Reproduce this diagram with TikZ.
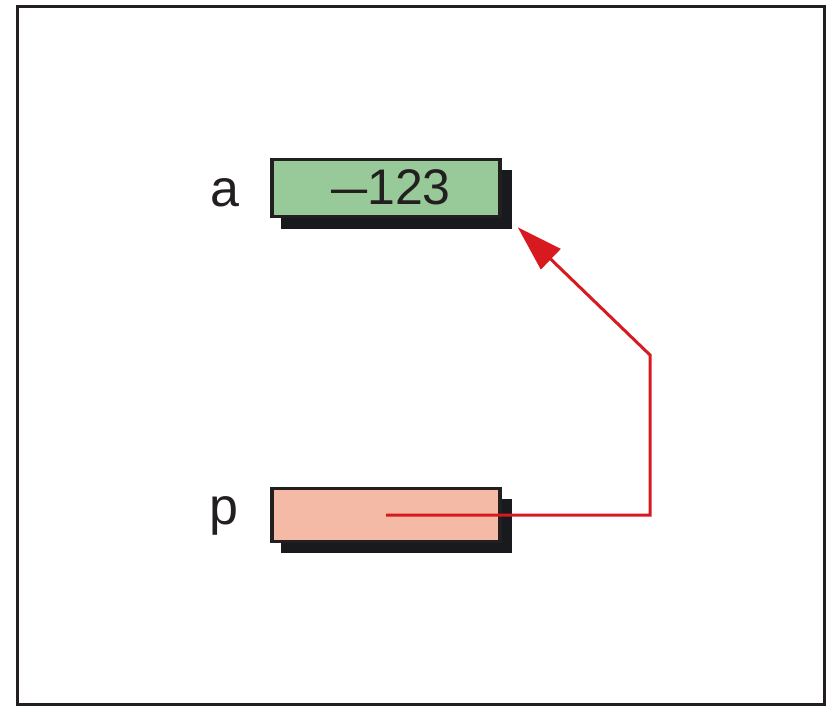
\documentclass[tikz,border=0pt]{standalone}
\usepackage{graphicx}
\usepackage{fontspec}
\setmainfont{Liberation Sans}
\usetikzlibrary{arrows.meta,calc}
\definecolor{cellgreen}{RGB}{151,202,152}
\definecolor{cellpink}{RGB}{244,186,166}
\definecolor{shade}{RGB}{24,26,30}
\definecolor{ink}{RGB}{35,31,32}
\definecolor{ptr}{RGB}{215,25,32}
\tikzset{
  cell/.style={draw=ink, line width=3.5pt, minimum width=228pt, minimum height=57pt,
    inner sep=0pt},
  lbl/.style={font=\fontsize{52}{52}\selectfont, inner sep=0pt, text=ink},
  val/.style={font=\fontsize{50}{50}\selectfont, inner sep=0pt, text=ink},
  cellshadow/.style={fill=shade},
  pointer/.style={draw=ptr, line width=3pt, -{Triangle[length=46pt,width=28pt]}}
}
\begin{document}
\begin{tikzpicture}[x=1pt,y=-1pt]
  \useasboundingbox (0,0) rectangle (831,707);
  % outer frame
  \draw[ink, line width=3pt] (17,6) rectangle (824,704);
  % shadows behind the cells
  \fill[cellshadow] (281,170) rectangle (512,229);
  \fill[cellshadow] (281,499) rectangle (512,553);
  % cells
  \node[cell, fill=cellgreen] (a) at (386,188) {};
  \node[cell, fill=cellpink, minimum height=53pt] (p) at (386,515) {};
  % stored value (with a long minus) and variable names
  \node[val, anchor=base] (va) at (391,204) {\scalebox{1.3}[1]{–}123};
  \node[lbl, anchor=base] (la) at (225,206) {a};
  \node[lbl, anchor=base] (lp) at (224,524) {p};
  % pointer from p to a
  \coordinate (bend1) at (650,515);
  \coordinate (bend2) at (650,355);
  \coordinate (tip) at ($(a.south east)+(16,9)$);
  \draw[pointer] (p.center) -- (bend1) -- (bend2) -- (tip);
\end{tikzpicture}
\end{document}
